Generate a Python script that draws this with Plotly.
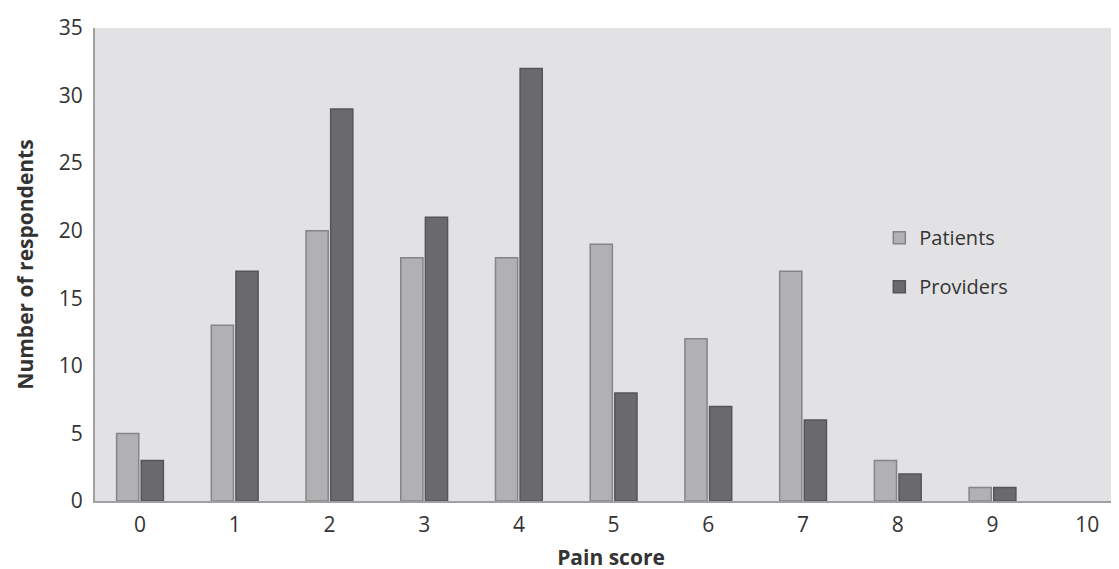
import plotly.graph_objects as go

categories = [0, 1, 2, 3, 4, 5, 6, 7, 8, 9, 10]
patients = [5, 13, 20, 18, 18, 19, 12, 17, 3, 1, 0]
providers = [3, 17, 29, 21, 32, 8, 7, 6, 2, 1, 0]
y_ticks = [0, 5, 10, 15, 20, 25, 30, 35]

def outline(vals, w):
    return [w if v > 0 else 0 for v in vals]

fig = go.Figure()
fig.add_trace(go.Bar(x=categories, y=patients, name="Patients", legendgroup="a",
                     marker=dict(color="#b1b1b3",
                                 line=dict(color="#858587", width=outline(patients, 1.5)))))
fig.add_trace(go.Bar(x=categories, y=providers, name="Providers", legendgroup="b",
                     marker=dict(color="#6a6a6c",
                                 line=dict(color="#555557", width=outline(providers, 1.5)))))

fig.update_layout(
    width=1119, height=569,
    margin=dict(l=87, r=0, t=20, b=76),
    paper_bgcolor="white",
    plot_bgcolor="#e2e2e4",
    barmode="group",
    bargap=0.48,
    bargroupgap=0.1,
    font=dict(family="Open Sans, Noto Sans, sans-serif", color="#333333"),
    legend=dict(x=0.76, y=0.505, xanchor="left", yanchor="middle",
                bgcolor="rgba(0,0,0,0)", font=dict(size=20, color="#333333"),
                tracegroupgap=20, itemwidth=30),
    xaxis=dict(
        tickmode="array", tickvals=categories, ticktext=[str(c) for c in categories],
        range=[-0.475, 10.42], showgrid=False, showline=True, linecolor="#a0a0a2", linewidth=2,
        ticks="", tickfont=dict(size=21, color="#333333"), ticklabelstandoff=4,
        title=dict(text="<b>Pain score</b>", font=dict(size=21, color="#333333"), standoff=13),
    ),
    yaxis=dict(
        range=[0, 35], tickvals=y_ticks, showgrid=False, showline=True, linecolor="#a0a0a2", linewidth=2,
        ticks="", tickfont=dict(size=21, color="#333333"), zeroline=False, ticklabelstandoff=6,
        title=dict(text="<b>Number of respondents</b>", font=dict(size=21, color="#333333"), standoff=19),
    ),
)

fig.write_html("out.html")
